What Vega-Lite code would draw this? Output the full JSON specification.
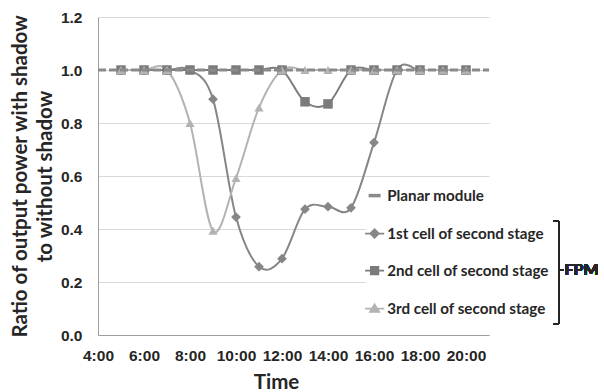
{
  "$schema": "https://vega.github.io/schema/vega-lite/v6.json",
  "width": 391,
  "height": 318,
  "autosize": {"type": "none"},
  "padding": {"left": 98, "top": 17, "right": 115, "bottom": 57},
  "background": "white",
  "config": {
    "view": {"stroke": null},
    "axis": {
      "labelFont": "Liberation Sans",
      "labelFontWeight": "bold",
      "labelFontSize": 15.5,
      "labelColor": "#262626",
      "labelOverlap": false,
      "labelFlush": false,
      "titleFont": "Lato",
      "titleFontWeight": "bold",
      "titleFontSize": 20.5,
      "titleColor": "#262626",
      "domainColor": "#9e9e9e",
      "domainWidth": 1,
      "ticks": false,
      "gridColor": "#d9d9d9",
      "gridWidth": 1
    },
    "legend": {
      "labelFont": "Lato",
      "labelFontWeight": "bold",
      "labelFontSize": 15.2,
      "labelColor": "#262626",
      "labelLimit": 0
    }
  },
  "data": {
    "values": [
      {"hour": 4, "series": "Planar module", "ratio": 1.0},
      {"hour": 5, "series": "Planar module", "ratio": 1.0},
      {"hour": 6, "series": "Planar module", "ratio": 1.0},
      {"hour": 7, "series": "Planar module", "ratio": 1.0},
      {"hour": 8, "series": "Planar module", "ratio": 1.0},
      {"hour": 9, "series": "Planar module", "ratio": 1.0},
      {"hour": 10, "series": "Planar module", "ratio": 1.0},
      {"hour": 11, "series": "Planar module", "ratio": 1.0},
      {"hour": 12, "series": "Planar module", "ratio": 1.0},
      {"hour": 13, "series": "Planar module", "ratio": 1.0},
      {"hour": 14, "series": "Planar module", "ratio": 1.0},
      {"hour": 15, "series": "Planar module", "ratio": 1.0},
      {"hour": 16, "series": "Planar module", "ratio": 1.0},
      {"hour": 17, "series": "Planar module", "ratio": 1.0},
      {"hour": 18, "series": "Planar module", "ratio": 1.0},
      {"hour": 19, "series": "Planar module", "ratio": 1.0},
      {"hour": 20, "series": "Planar module", "ratio": 1.0},
      {"hour": 21, "series": "Planar module", "ratio": 1.0},

      {"hour": 5, "series": "1st cell of second stage", "ratio": 1.0},
      {"hour": 6, "series": "1st cell of second stage", "ratio": 1.0},
      {"hour": 7, "series": "1st cell of second stage", "ratio": 1.0},
      {"hour": 8, "series": "1st cell of second stage", "ratio": 1.0},
      {"hour": 9, "series": "1st cell of second stage", "ratio": 0.89},
      {"hour": 10, "series": "1st cell of second stage", "ratio": 0.445},
      {"hour": 11, "series": "1st cell of second stage", "ratio": 0.258},
      {"hour": 12, "series": "1st cell of second stage", "ratio": 0.288},
      {"hour": 13, "series": "1st cell of second stage", "ratio": 0.475},
      {"hour": 14, "series": "1st cell of second stage", "ratio": 0.484},
      {"hour": 15, "series": "1st cell of second stage", "ratio": 0.48},
      {"hour": 16, "series": "1st cell of second stage", "ratio": 0.726},
      {"hour": 17, "series": "1st cell of second stage", "ratio": 1.0},
      {"hour": 18, "series": "1st cell of second stage", "ratio": 1.0},
      {"hour": 19, "series": "1st cell of second stage", "ratio": 1.0},
      {"hour": 20, "series": "1st cell of second stage", "ratio": 1.0},

      {"hour": 5, "series": "2nd cell of second stage", "ratio": 1.0},
      {"hour": 6, "series": "2nd cell of second stage", "ratio": 1.0},
      {"hour": 7, "series": "2nd cell of second stage", "ratio": 1.0},
      {"hour": 8, "series": "2nd cell of second stage", "ratio": 1.0},
      {"hour": 9, "series": "2nd cell of second stage", "ratio": 1.0},
      {"hour": 10, "series": "2nd cell of second stage", "ratio": 1.0},
      {"hour": 11, "series": "2nd cell of second stage", "ratio": 1.0},
      {"hour": 12, "series": "2nd cell of second stage", "ratio": 1.0},
      {"hour": 13, "series": "2nd cell of second stage", "ratio": 0.88},
      {"hour": 14, "series": "2nd cell of second stage", "ratio": 0.872},
      {"hour": 15, "series": "2nd cell of second stage", "ratio": 1.0},
      {"hour": 16, "series": "2nd cell of second stage", "ratio": 1.0},
      {"hour": 17, "series": "2nd cell of second stage", "ratio": 1.0},
      {"hour": 18, "series": "2nd cell of second stage", "ratio": 1.0},
      {"hour": 19, "series": "2nd cell of second stage", "ratio": 1.0},
      {"hour": 20, "series": "2nd cell of second stage", "ratio": 1.0},

      {"hour": 5, "series": "3rd cell of second stage", "ratio": 1.0},
      {"hour": 6, "series": "3rd cell of second stage", "ratio": 1.0},
      {"hour": 7, "series": "3rd cell of second stage", "ratio": 1.0},
      {"hour": 8, "series": "3rd cell of second stage", "ratio": 0.8},
      {"hour": 9, "series": "3rd cell of second stage", "ratio": 0.393},
      {"hour": 10, "series": "3rd cell of second stage", "ratio": 0.592},
      {"hour": 11, "series": "3rd cell of second stage", "ratio": 0.858},
      {"hour": 12, "series": "3rd cell of second stage", "ratio": 1.0},
      {"hour": 13, "series": "3rd cell of second stage", "ratio": 1.0},
      {"hour": 14, "series": "3rd cell of second stage", "ratio": 1.0},
      {"hour": 15, "series": "3rd cell of second stage", "ratio": 1.0},
      {"hour": 16, "series": "3rd cell of second stage", "ratio": 1.0},
      {"hour": 17, "series": "3rd cell of second stage", "ratio": 1.0},
      {"hour": 18, "series": "3rd cell of second stage", "ratio": 1.0},
      {"hour": 19, "series": "3rd cell of second stage", "ratio": 1.0},
      {"hour": 20, "series": "3rd cell of second stage", "ratio": 1.0}
    ]
  },
  "encoding": {
    "x": {
      "field": "hour",
      "type": "quantitative",
      "scale": {"domain": [4, 21], "nice": false, "zero": false},
      "axis": {
        "values": [4, 6, 8, 10, 12, 14, 16, 18, 20],
        "labelExpr": "datum.value + ':00'",
        "labelPadding": 13,
        "grid": false,
        "title": "Time",
        "titleX": 178,
        "titleY": 53,
        "titleBaseline": "alphabetic",
        "titleAnchor": "middle"
      }
    },
    "y": {
      "field": "ratio",
      "type": "quantitative",
      "scale": {"domain": [0, 1.2], "nice": false},
      "axis": {
        "values": [0, 0.2, 0.4, 0.6, 0.8, 1.0, 1.2],
        "format": ".1f",
        "labelPadding": 16,
        "grid": true,
        "title": ["Ratio of output power with shadow", "to without shadow"],
        "titleLineHeight": 25,
        "titlePadding": 5
      }
    },
    "color": {
      "field": "series",
      "type": "nominal",
      "scale": {
        "domain": ["Planar module", "1st cell of second stage", "2nd cell of second stage", "3rd cell of second stage"],
        "range": ["#8a8a8a", "#868686", "#7b7b7b", "#b3b3b3"]
      },
      "legend": {
        "title": null,
        "orient": "none",
        "legendX": 268,
        "legendY": 170,
        "padding": 1,
        "fillColor": "white",
        "symbolSize": 100,
        "labelOffset": 5,
        "rowPadding": 21,
        "encode": {
          "symbols": {
            "update": {
              "shape": {"signal": "datum.value === 'Planar module' ? 'M-1.2,0H1.2' : datum.value === '1st cell of second stage' ? 'M-1.9,0H1.9M0,-0.85L0.85,0L0,0.85L-0.85,0Z' : datum.value === '2nd cell of second stage' ? 'M-1.9,0H1.9M-0.75,-0.75H0.75V0.75H-0.75Z' : 'M-1.9,0H1.9M0,-0.85L0.9,0.65H-0.9Z'"},
              "strokeWidth": {"signal": "datum.value === 'Planar module' ? 3.5 : 1.8"},
              "fill": {"signal": "datum.value === 'Planar module' ? 'transparent' : scale('color', datum.value)"},
              "stroke": {"signal": "scale('color', datum.value)"},
              "strokeDash": {"value": []},
              "opacity": {"value": 1}
            }
          }
        }
      }
    }
  },
  "layer": [
    {
      "transform": [{"filter": "datum.series !== 'Planar module'"}],
      "mark": {"type": "line", "interpolate": "cardinal", "strokeWidth": 2}
    },
    {
      "transform": [{"filter": "datum.series !== 'Planar module'"}],
      "mark": {"type": "point", "filled": true, "opacity": 1},
      "encoding": {
        "shape": {
          "field": "series",
          "type": "nominal",
          "scale": {
            "domain": ["1st cell of second stage", "2nd cell of second stage", "3rd cell of second stage"],
            "range": ["diamond", "square", "triangle-up"]
          },
          "legend": null
        },
        "size": {
          "field": "series",
          "type": "nominal",
          "scale": {
            "domain": ["1st cell of second stage", "2nd cell of second stage", "3rd cell of second stage"],
            "range": [95, 85, 110]
          },
          "legend": null
        }
      }
    },
    {
      "transform": [{"filter": "datum.series === 'Planar module'"}],
      "mark": {"type": "line", "strokeWidth": 3, "strokeDash": [8, 3]}
    },
    {
      "mark": {"type": "rule", "color": "#262626", "strokeWidth": 1.5},
      "encoding": {
        "x": {"datum": 24.04, "type": "quantitative"},
        "y": {"datum": 0.43, "type": "quantitative"},
        "y2": {"datum": 0.042},
        "color": null
      }
    },
    {
      "mark": {"type": "rule", "color": "#262626", "strokeWidth": 1.5},
      "encoding": {
        "x": {"datum": 23.8, "type": "quantitative"},
        "x2": {"datum": 24.04},
        "y": {"datum": 0.43, "type": "quantitative"},
        "color": null
      }
    },
    {
      "mark": {"type": "rule", "color": "#262626", "strokeWidth": 1.5},
      "encoding": {
        "x": {"datum": 23.8, "type": "quantitative"},
        "x2": {"datum": 24.04},
        "y": {"datum": 0.042, "type": "quantitative"},
        "color": null
      }
    },
    {
      "mark": {"type": "rule", "color": "#262626", "strokeWidth": 1.5},
      "encoding": {
        "x": {"datum": 24.04, "type": "quantitative"},
        "x2": {"datum": 24.24},
        "y": {"datum": 0.245, "type": "quantitative"},
        "color": null
      }
    },
    {
      "mark": {"type": "text", "text": "FPM", "align": "left", "baseline": "middle", "font": "Lato", "fontWeight": "bold", "fontSize": 16, "color": "#262626", "dx": 1},
      "encoding": {
        "x": {"datum": 24.24, "type": "quantitative"},
        "y": {"datum": 0.245, "type": "quantitative"},
        "color": null
      }
    }
  ]
}
